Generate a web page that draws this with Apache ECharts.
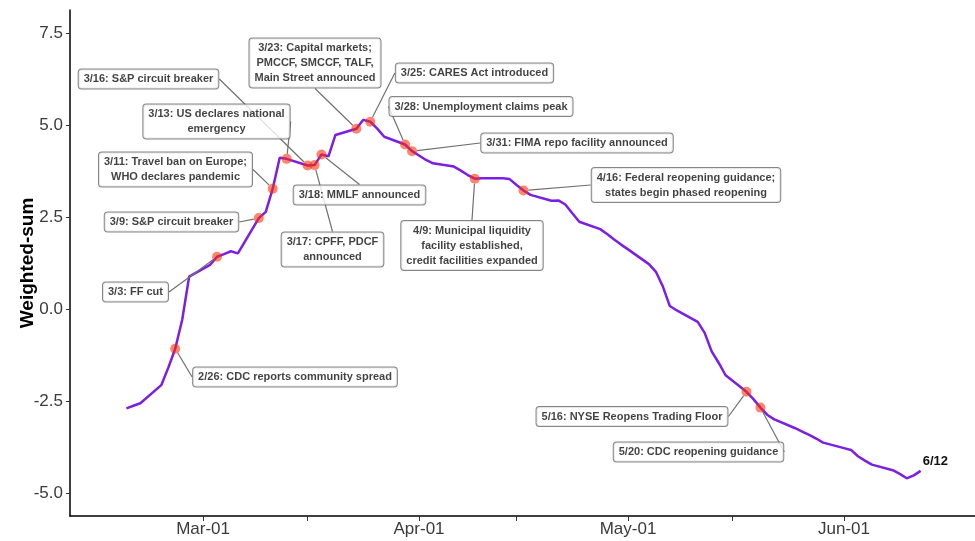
<!DOCTYPE html>
<html>
<head>
<meta charset="utf-8">
<script src="https://cdn.jsdelivr.net/npm/echarts@6/dist/echarts.min.js"></script>
<style>
html, body { margin: 0; padding: 0; background: #fff; }
#main { width: 975px; height: 541px; }
</style>
</head>
<body>
<div id="main"></div>
<script>
// business days, Feb 19 - Jun 12 2020
var dates = [
    '2020-02-19', '2020-02-20', '2020-02-21', '2020-02-24', '2020-02-25', '2020-02-26', '2020-02-27', '2020-02-28',
    '2020-03-02', '2020-03-03', '2020-03-04', '2020-03-05', '2020-03-06', '2020-03-09', '2020-03-10', '2020-03-11',
    '2020-03-12', '2020-03-13', '2020-03-16', '2020-03-17', '2020-03-18', '2020-03-19', '2020-03-20', '2020-03-23',
    '2020-03-24', '2020-03-25', '2020-03-26', '2020-03-27', '2020-03-30', '2020-03-31',
    '2020-04-01', '2020-04-02', '2020-04-03', '2020-04-06', '2020-04-07', '2020-04-08', '2020-04-09', '2020-04-10',
    '2020-04-13', '2020-04-14', '2020-04-15', '2020-04-16', '2020-04-17', '2020-04-20', '2020-04-21', '2020-04-22',
    '2020-04-23', '2020-04-24', '2020-04-27', '2020-04-28', '2020-04-29', '2020-04-30',
    '2020-05-01', '2020-05-04', '2020-05-05', '2020-05-06', '2020-05-07', '2020-05-08', '2020-05-11', '2020-05-12',
    '2020-05-13', '2020-05-14', '2020-05-15', '2020-05-18', '2020-05-19', '2020-05-20', '2020-05-21', '2020-05-22',
    '2020-05-25', '2020-05-26', '2020-05-27', '2020-05-28', '2020-05-29',
    '2020-06-01', '2020-06-02', '2020-06-03', '2020-06-04', '2020-06-05', '2020-06-08', '2020-06-09', '2020-06-10',
    '2020-06-11', '2020-06-12'
];

var values = [
    -2.70, -2.63, -2.56, -2.07, -1.60, -1.08, -0.30, 0.88,
    1.20, 1.42, 1.49, 1.57, 1.51, 2.47, 2.64, 3.27,
    4.11, 4.08, 3.90, 3.91, 4.20, 4.15, 4.73, 4.90,
    5.14, 5.09, 4.90, 4.68, 4.47, 4.29,
    4.17, 4.05, 3.96, 3.87, 3.76, 3.64, 3.54, 3.55,
    3.55, 3.53, 3.37, 3.22, 3.10, 2.94, 2.95, 2.84,
    2.60, 2.37, 2.17, 2.04, 1.89, 1.75,
    1.62, 1.22, 1.01, 0.61, 0.08, -0.04, -0.35, -0.65,
    -1.15, -1.46, -1.80, -2.25, -2.45, -2.68, -2.88, -3.00,
    -3.24, -3.33, -3.42, -3.52, -3.63,
    -3.78, -3.83, -4.00, -4.12, -4.23, -4.38, -4.48, -4.60,
    -4.52, -4.40
];

// events: the trading day the dot sits on, and the note text
var eventDates = [
    '2020-02-26', '2020-03-03', '2020-03-09', '2020-03-11', '2020-03-13', '2020-03-16',
    '2020-03-17', '2020-03-18', '2020-03-23', '2020-03-25', '2020-03-30', '2020-03-31',
    '2020-04-09', '2020-04-16', '2020-05-18', '2020-05-20'
];
var eventTexts = [
    '2/26: CDC reports community spread',
    '3/3: FF cut',
    '3/9: S&P circuit breaker',
    '3/11: Travel ban on Europe;\nWHO declares pandemic',
    '3/13: US declares national\nemergency',
    '3/16: S&P circuit breaker',
    '3/17: CPFF, PDCF\nannounced',
    '3/18: MMLF announced',
    '3/23: Capital markets;\nPMCCF, SMCCF, TALF,\nMain Street announced',
    '3/25: CARES Act introduced',
    '3/28: Unemployment claims peak',
    '3/31: FIMA repo facility announced',
    '4/9: Municipal liquidity\nfacility established,\ncredit facilities expanded',
    '4/16: Federal reopening guidance;\nstates begin phased reopening',
    '5/16: NYSE Reopens Trading Floor',
    '5/20: CDC reopening guidance'
];

var tickDates = ['2020-03-01', '2020-04-01', '2020-05-01', '2020-06-01'];
var tickLabels = ['Mar-01', 'Apr-01', 'May-01', 'Jun-01'];
var midTickDates = ['2020-03-16', '2020-04-15', '2020-05-16'];
var yTicks = [-5, -2.5, 0, 2.5, 5, 7.5];
var endText = '6/12';

// where each note box is centred, in pixels
var labelPos = [
    [295, 377], [135.5, 292], [171.5, 222], [175.5, 169.5], [216.5, 121.5], [148.5, 79],
    [332.5, 249.5], [359.5, 195], [315, 63], [474.5, 73], [481, 106.5], [577, 143],
    [472, 245.5], [686, 185], [632, 416.5], [698.5, 452]
];

var DAY = 86400000;
function ts(s) {
    var p = s.split('-');
    return Date.UTC(+p[0], +p[1] - 1, +p[2]);
}

var lineData = [];
for (var i = 0; i < dates.length; i++) {
    lineData.push([ts(dates[i]), values[i]]);
}

var eventData = [];
for (var j = 0; j < eventDates.length; j++) {
    var k = dates.indexOf(eventDates[j]);
    eventData.push({ name: eventTexts[j], value: [ts(eventDates[j]), values[k]] });
}

var tickVals = tickDates.map(ts);
var allTicks = tickVals.concat(midTickDates.map(ts));
var mar1 = ts('2020-03-01');

var myChart = echarts.init(document.getElementById('main'));

var option = {
    animation: false,
    textStyle: { fontFamily: '"Liberation Sans", Arial, sans-serif' },
    grid: { left: 70, right: 0, top: 10, bottom: 25, containLabel: false, outerBoundsMode: 'none' },
    xAxis: {
        type: 'value',
        min: mar1 - 19.1 * DAY,
        max: mar1 + 110.8 * DAY,
        axisLine: { onZero: false, lineStyle: { color: '#000', width: 1.5 } },
        axisTick: { show: true, customValues: allTicks, length: 5, lineStyle: { color: '#333', width: 1 } },
        axisLabel: {
            customValues: tickVals,
            fontSize: 17,
            color: '#3a3a3a',
            margin: 5,
            formatter: function (v) {
                for (var i = 0; i < tickVals.length; i++) {
                    if (Math.abs(tickVals[i] - v) < DAY / 2) return tickLabels[i];
                }
                return '';
            }
        },
        splitLine: { show: false }
    },
    yAxis: {
        type: 'value',
        min: -5.625,
        max: 8.125,
        name: 'Weighted-sum',
        nameLocation: 'middle',
        nameGap: 33,
        nameRotate: 90,
        nameMoveOverlap: false,
        nameTextStyle: { fontSize: 19, fontWeight: 'bold', color: '#000' },
        axisLine: { show: true, onZero: false, lineStyle: { color: '#000', width: 1.5 } },
        axisTick: { show: true, customValues: yTicks, length: 4, lineStyle: { color: '#333', width: 1 } },
        axisLabel: {
            customValues: yTicks,
            fontSize: 17,
            color: '#3a3a3a',
            margin: 7,
            formatter: function (v) { return v.toFixed(1); }
        },
        splitLine: { show: false }
    },
    series: [{
        type: 'line',
        data: lineData,
        showSymbol: false,
        symbol: 'none',
        silent: true,
        z: 2,
        lineStyle: { color: '#7B1FE3', width: 2.5 },
        endLabel: {
            show: true,
            formatter: endText,
            fontSize: 13,
            fontWeight: 'bold',
            color: '#111',
            distance: 2,
            offset: [0, -9]
        }
    }, {
        type: 'scatter',
        data: eventData,
        symbolSize: 10,
        silent: true,
        z: 3,
        itemStyle: { color: 'rgba(255, 45, 0, 0.72)' },
        label: {
            show: true,
            formatter: '{b}',
            fontSize: 11,
            fontWeight: 'bold',
            color: '#111',
            lineHeight: 15,
            align: 'center',
            backgroundColor: '#fff',
            borderColor: '#666',
            borderWidth: 1,
            borderRadius: 3,
            padding: [2, 5]
        },
        labelLine: {
            show: true,
            lineStyle: { color: '#707070', width: 1.2 }
        },
        labelLayout: function (params) {
            var p = labelPos[params.dataIndex];
            return { x: p[0], y: p[1], align: 'center', verticalAlign: 'middle' };
        }
    }]
};

myChart.setOption(option);
</script>
</body>
</html>
